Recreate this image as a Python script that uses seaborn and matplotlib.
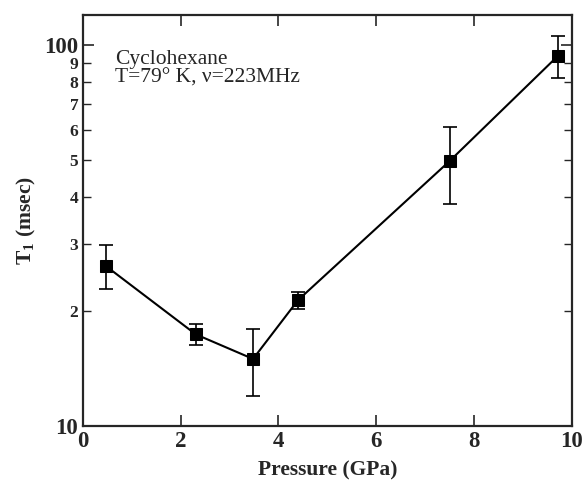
import numpy as np
import pandas as pd
import matplotlib
matplotlib.use('Agg')
import matplotlib.pyplot as plt
import seaborn as sns
from matplotlib.ticker import LogLocator, FuncFormatter

pressure = [0.47, 2.31, 3.48, 4.40, 7.50, 9.71]
t1 = [26.3, 17.4, 15.0, 21.4, 49.6, 93.5]
t1_hi = [29.9, 18.5, 18.0, 22.5, 61.0, 105.7]
t1_lo = [22.9, 16.3, 12.0, 20.3, 38.3, 81.8]
note_lines = ['Cyclohexane', 'T=79\u00b0 K, \u03bd=223MHz']

sns.set_style('ticks')
plt.rcParams['font.family'] = ['Liberation Serif', 'DejaVu Serif']
plt.rcParams['mathtext.fontset'] = 'custom'
plt.rcParams['mathtext.rm'] = 'Liberation Serif'
plt.rcParams['mathtext.bf'] = 'Liberation Serif:bold'

df = pd.DataFrame({'P': pressure, 'T1': t1})
fig = plt.figure(figsize=(5.84, 4.83), dpi=100)
ax = fig.add_axes([0.142, 0.118, 0.837, 0.851])

yerr = [np.array(t1) - np.array(t1_lo), np.array(t1_hi) - np.array(t1)]
ax.errorbar(pressure, t1, yerr=yerr, fmt='none', ecolor='black',
            elinewidth=1.2, capsize=5, capthick=1.2)
sns.lineplot(data=df, x='P', y='T1', ax=ax, color='black', linewidth=1.5,
             marker='s', markersize=8, markeredgecolor='black')

ax.set_yscale('log')
ax.set_xlim(0, 10)
ax.set_ylim(10, 120)
ax.set_xticks([0, 2, 4, 6, 8, 10])
ax.yaxis.set_major_locator(LogLocator(base=10, subs=[1.0]))
ax.yaxis.set_minor_locator(LogLocator(base=10, subs=np.arange(2, 10)))
ax.yaxis.set_major_formatter(FuncFormatter(lambda v, p: f'{int(round(v))}'))
ax.yaxis.set_minor_formatter(FuncFormatter(lambda v, p: f'{int(round(v / 10 ** np.floor(np.log10(v) + 1e-9)))}'))

ax.tick_params(axis='both', which='both', direction='in', top=True, right=True)
ax.tick_params(axis='both', which='major', length=8, width=1.2, labelsize=16.5)
ax.tick_params(axis='y', which='minor', length=6, width=1.0, labelsize=12.5)
ax.tick_params(axis='x', which='minor', bottom=False, top=False)
for lab in ax.get_xticklabels() + ax.get_yticklabels() + ax.get_yminorticklabels():
    lab.set_fontweight('bold')
for s in ax.spines.values():
    s.set_linewidth(1.6)

ax.set_xlabel('Pressure (GPa)', fontsize=15.5, fontweight='bold', labelpad=6)
ax.set_ylabel('T$_\\mathbf{1}$ (msec)', fontsize=15.5, fontweight='bold')
for i, line in enumerate(note_lines):
    ax.text(0.066, 0.891 - 0.044 * i, line, transform=ax.transAxes,
            fontsize=15.5, va='center', ha='left')
if ax.get_legend():
    ax.get_legend().remove()

fig.savefig('out.png', dpi=100, facecolor='white')
